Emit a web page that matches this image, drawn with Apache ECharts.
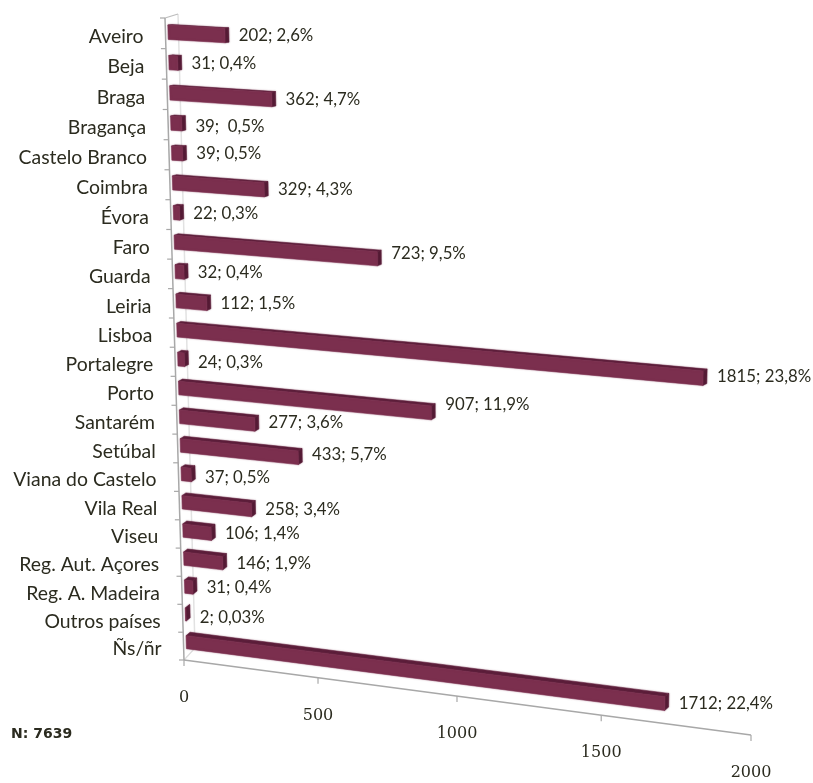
<!DOCTYPE html>
<html>
<head>
<meta charset="utf-8">
<title>Distritos</title>
<script src="https://cdn.jsdelivr.net/npm/echarts@6/dist/echarts.min.js"></script>
<style>
  html, body { margin: 0; padding: 0; background: #fff; }
  #chart { width: 813px; height: 783px; }
</style>
</head>
<body>
<div id="chart"></div>
<script>
const categories = ['Aveiro', 'Beja', 'Braga', 'Bragança', 'Castelo Branco', 'Coimbra', 'Évora', 'Faro', 'Guarda', 'Leiria', 'Lisboa', 'Portalegre', 'Porto', 'Santarém', 'Setúbal', 'Viana do Castelo', 'Vila Real', 'Viseu', 'Reg. Aut. Açores', 'Reg. A. Madeira', 'Outros países', 'Ñs/ñr'];
const counts = [202, 31, 362, 39, 39, 329, 22, 723, 32, 112, 1815, 24, 907, 277, 433, 37, 258, 106, 146, 31, 2, 1712];
const shares = ['2,6%', '0,4%', '4,7%', ' 0,5%', '0,5%', '4,3%', '0,3%', '9,5%', '0,4%', '1,5%', '23,8%', '0,3%', '11,9%', '3,6%', '5,7%', '0,5%', '3,4%', '1,4%', '1,9%', '0,4%', '0,03%', '22,4%'];
const xTicks = [0, 500, 1000, 1500, 2000];

const TEXT = '#2b2b1f';
const FONT = 'Lato';
// a few data labels were moved by hand in the original
const labelNudge = { 'Bragança': 3, 'Faro': -5, 'Lisboa': -2, 'Portalegre': 3, 'Porto': -8, 'Santarém': -2, 'Setúbal': -3, 'Viana do Castelo': 3, 'Outros países': 3 };

// the picture is a tilted 3D chart: flat grid coords are pushed through a
// bilinear map with some perspective in both directions
function persp(t, k) {
  return t / (k * (1 - t) + t);
}
function mapTo(quad, u, w) {
  const f = persp(u, 1.077);
  const g = persp(w, 0.95);
  const topX = quad.tl[0] + (quad.tr[0] - quad.tl[0]) * f;
  const topY = quad.tl[1] + (quad.tr[1] - quad.tl[1]) * f;
  const botX = quad.bl[0] + (quad.br[0] - quad.bl[0]) * f;
  const botY = quad.bl[1] + (quad.br[1] - quad.bl[1]) * f;
  return [topX + (botX - topX) * g, topY + (botY - topY) * g];
}
const barPlane = { tl: [167.6, 17], tr: [770, 51], bl: [186.7, 656], br: [751, 729.5] };
const axisPlane = { tl: [165, 18], tr: [770, 52], bl: [184, 660], br: [751, 735] };

function norm(params, p) {
  const r = params.coordSys;
  return [(p[0] - r.x) / r.width, (p[1] - r.y) / r.height];
}

function poly(points, fill) {
  return {
    type: 'polygon',
    shape: { points },
    style: { fill, stroke: fill, lineWidth: 0.5, shadowBlur: 1.5, shadowColor: 'rgba(123,47,78,0.5)' }
  };
}

function renderBar(params, api) {
  const v = api.value(0);
  const i = api.value(1);
  const start = norm(params, api.coord([0, i]));
  const end = norm(params, api.coord([v, i]));
  const half = 0.235 / categories.length;
  const w = start[1];
  const a = mapTo(barPlane, start[0], w - half);
  const b = mapTo(barPlane, end[0], w - half);
  const c = mapTo(barPlane, end[0], w + half);
  const d = mapTo(barPlane, start[0], w + half);
  // depth of the bar, the top face opens up further down the chart
  const dx = 4;
  const dy = -(0.5 + 3 * w);
  const shift = p => [p[0] + dx, p[1] + dy];
  return {
    type: 'group',
    children: [
      poly([a, b, shift(b), shift(a)], '#5c1f3b'),
      poly([b, shift(b), shift(c), c], '#551c36'),
      poly([a, b, c, d], '#7b2f4e'),
      {
        type: 'text',
        style: {
          x: b[0] + 14,
          y: (b[1] + c[1]) / 2 + (labelNudge[categories[i]] || 0),
          text: v + '; ' + shares[i],
          fill: TEXT,
          font: '16.8px ' + FONT,
          align: 'left',
          verticalAlign: 'middle'
        }
      }
    ]
  };
}

function renderCategory(params, api) {
  const i = api.value(0);
  const size = api.size([0, 1])[1] / params.coordSys.height;
  const mid = norm(params, api.coord([0, i]));
  const tick = mapTo(axisPlane, 0, mid[1] - size / 2);
  const at = mapTo(axisPlane, 0, mid[1]);
  return {
    type: 'group',
    children: [
      { type: 'line', shape: { x1: tick[0] - 5, y1: tick[1], x2: tick[0], y2: tick[1] }, style: { stroke: '#a8a8a8', lineWidth: 1.2 } },
      {
        type: 'text',
        style: {
          x: at[0] - 22,
          y: at[1] + 3,
          text: categories[i],
          fill: TEXT,
          font: '19.4px ' + FONT,
          align: 'right',
          verticalAlign: 'middle'
        }
      }
    ]
  };
}

function renderXTick(params, api) {
  const p = norm(params, api.coord([api.value(0), 0]));
  const tick = mapTo(axisPlane, p[0], 1);
  return {
    type: 'group',
    children: [
      { type: 'line', shape: { x1: tick[0], y1: tick[1], x2: tick[0], y2: tick[1] + 6 }, style: { stroke: '#a8a8a8', lineWidth: 1.2 } },
      {
        type: 'text',
        style: {
          x: tick[0],
          y: tick[1] + 38,
          text: String(api.value(0)),
          fill: TEXT,
          font: '16px "DejaVu Serif"',
          align: 'center',
          verticalAlign: 'middle'
        }
      }
    ]
  };
}

function renderFrame() {
  const corner = axisPlane.bl;
  const top = axisPlane.tl;
  const right = axisPlane.br;
  const line = (x1, y1, x2, y2, stroke, lineWidth) => ({ type: 'line', shape: { x1, y1, x2, y2 }, style: { stroke, lineWidth } });
  return {
    type: 'group',
    children: [
      line(178, 14, 195, 648, '#e2e2e2', 1.5),
      line(top[0], top[1], 178, 14, '#bdbdbd', 1.2),
      line(corner[0], corner[1], 195, 648, '#dcdcdc', 1.2),
      line(top[0], top[1], corner[0], corner[1], '#a8a8a8', 1.5),
      line(corner[0], corner[1], right[0], right[1], '#a8a8a8', 1.5),
      line(corner[0] - 5, corner[1], corner[0], corner[1], '#a8a8a8', 1.2)
    ]
  };
}

const chart = echarts.init(document.getElementById('chart'));
chart.setOption({
  animation: false,
  backgroundColor: '#fff',
  title: {
    text: 'N: 7639',
    left: 6,
    top: 722,
    textStyle: { color: '#2b2b1f', fontFamily: 'DejaVu Sans', fontSize: 14, fontWeight: 'bold' }
  },
  grid: { left: 168, right: 60, top: 17, bottom: 127 },
  xAxis: { type: 'value', min: 0, max: 2000, interval: 500, show: false },
  yAxis: { type: 'category', data: categories, inverse: true, show: false },
  series: [
    { type: 'custom', name: 'frame', silent: true, z: 1, clip: false, renderItem: renderFrame, data: [[0, 0]], encode: { x: 0, y: 1 } },
    { type: 'custom', name: 'categories', silent: true, z: 2, clip: false, renderItem: renderCategory, data: categories.map((c, i) => [i]), encode: { y: 0 } },
    { type: 'custom', name: 'xTicks', silent: true, z: 2, clip: false, renderItem: renderXTick, data: xTicks.map(t => [t]), encode: { x: 0 } },
    { type: 'custom', name: 'counts', silent: true, z: 3, clip: false, renderItem: renderBar, data: counts.map((v, i) => [v, i]), encode: { x: 0, y: 1 } }
  ]
});

window.addEventListener('resize', () => chart.resize());
</script>
</body>
</html>
